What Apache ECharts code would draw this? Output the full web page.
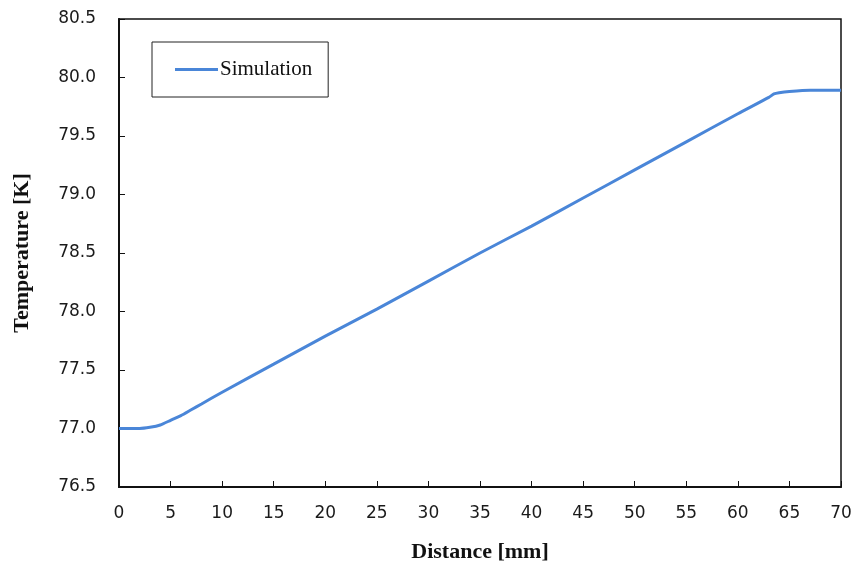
<!DOCTYPE html>
<html>
<head>
<meta charset="utf-8">
<script src="https://cdn.jsdelivr.net/npm/echarts@6/dist/echarts.min.js"></script>
<style>html,body{margin:0;padding:0;background:#fff;}#c{width:855px;height:568px;}</style>
</head>
<body>
<div id="c"></div>
<script>
const distance = [0,1,2,3,4,5,6,7,8,10,15,20,25,30,35,40,45,50,55,60,63,63.5,64,65,67,70];
const temperature = [77.00,77.00,77.00,77.01,77.03,77.07,77.11,77.16,77.21,77.31,77.55,77.79,78.02,78.26,78.50,78.73,78.97,79.21,79.45,79.69,79.83,79.86,79.87,79.88,79.89,79.89];
const seriesName = 'Simulation';

const chart = echarts.init(document.getElementById('c'));
const axisFont = {fontFamily: 'DejaVu Sans', fontSize: 17, color: '#1a1a1a'};
chart.setOption({
  animation: false,
  backgroundColor: '#fff',
  grid: {left: 119, right: 14, top: 19, bottom: 81, show: true, borderColor: '#111', borderWidth: 1.5},
  legend: {
    left: 152, top: 42, orient: 'vertical',
    borderColor: '#222', borderWidth: 1,
    padding: [17, 16, 17, 23],
    itemWidth: 43, itemHeight: 3, itemGap: 5,
    icon: 'rect',
    textStyle: {fontFamily: 'Liberation Serif', fontSize: 21, color: '#111', padding: [0, 0, 0, -3]},
    data: [seriesName]
  },
  xAxis: {
    type: 'value', min: 0, max: 70, interval: 5,
    name: 'Distance [mm]', nameLocation: 'middle', nameGap: 54,
    nameTextStyle: {fontFamily: 'Liberation Serif', fontWeight: 'bold', fontSize: 22, color: '#111'},
    axisLine: {show: true, lineStyle: {color: '#111', width: 2}},
    axisTick: {show: true, inside: true, length: 6, lineStyle: {color: '#111'}},
    axisLabel: Object.assign({margin: 18}, axisFont),
    splitLine: {show: false}
  },
  yAxis: {
    type: 'value', min: 76.5, max: 80.5, interval: 0.5,
    name: 'Temperature [K]', nameLocation: 'middle', nameGap: 86,
    nameTextStyle: {fontFamily: 'Liberation Serif', fontWeight: 'bold', fontSize: 22, color: '#111'},
    axisLine: {show: true, lineStyle: {color: '#111', width: 2}},
    axisTick: {show: true, inside: true, length: 6, lineStyle: {color: '#111'}},
    axisLabel: Object.assign({margin: 23, formatter: v => v.toFixed(1)}, axisFont),
    splitLine: {show: false}
  },
  series: [{
    name: seriesName, type: 'line', showSymbol: false, smooth: 0.2,
    data: distance.map((d, i) => [d, temperature[i]]),
    lineStyle: {color: '#4a86d8', width: 3},
    itemStyle: {color: '#4a86d8'}
  }]
});
</script>
</body>
</html>
